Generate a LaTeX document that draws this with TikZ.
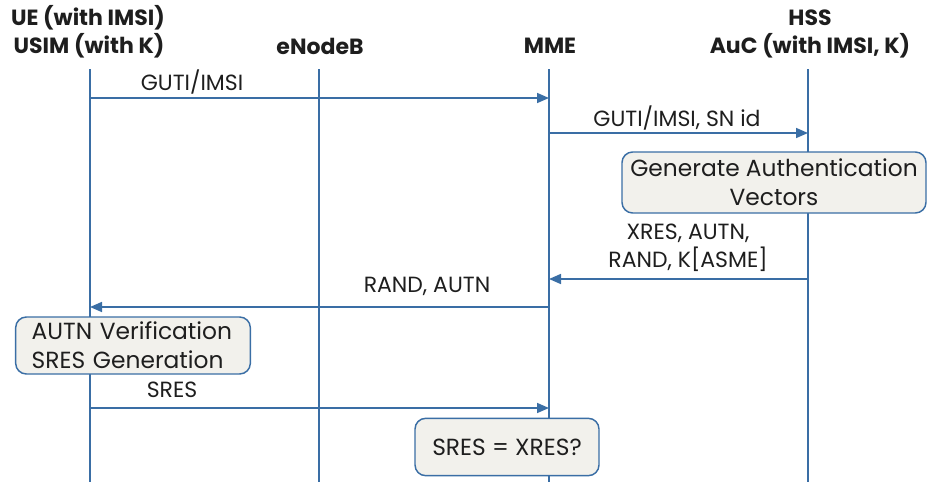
\documentclass[tikz,border=0pt]{standalone}
\usepackage{fontspec}
\setmainfont{Poppins}
\usetikzlibrary{arrows.meta}
\definecolor{lblue}{HTML}{3A6EA5}
\definecolor{boxfill}{HTML}{F2F1EC}
\definecolor{txt}{HTML}{1E1E1E}
\begin{document}
\begin{tikzpicture}[x=0.75pt,y=-0.75pt,
  life/.style={draw=lblue,line width=1.2pt},
  msg/.style={draw=lblue,line width=1.2pt,-{Triangle[length=9pt,width=7.5pt]}},
  head/.style={font=\bfseries\fontsize{16.5}{19}\selectfont,text=txt,inner sep=0,anchor=center},
  lbl/.style={font=\fontsize{16.5}{21}\selectfont,text=txt,inner sep=0,anchor=center},
  notebox/.style={draw=lblue,line width=1.1pt,fill=boxfill,rounded corners=8pt,inner sep=0,text=txt,font=\fontsize{17.5}{21.5}\selectfont}]
\useasboundingbox (0,0) rectangle (929,482);
% headers
\node[head] (ue1) at (88,18) {UE (with IMSI)};
\node[head] (ue2) at (89,46) {USIM (with K)};
\node[head] (enb) at (320,46) {eNodeB};
\node[head] (mme) at (550,46) {MME};
\node[head] (hss1) at (810,18) {HSS};
\node[head] (hss2) at (810,46) {AuC (with IMSI, K)};
% lifelines
\coordinate (ueT) at (90,69);   \coordinate (ueB) at (90,482);
\coordinate (enT) at (319,69);  \coordinate (enB) at (319,482);
\coordinate (mmT) at (549,69);  \coordinate (mmB) at (549,482);
\coordinate (hsT) at (808,69);  \coordinate (hsB) at (808,482);
\draw[life] (ueT) -- (ueB);
\draw[life] (enT) -- (enB);
\draw[life] (mmT) -- (mmB);
\draw[life] (hsT) -- (hsB);
% message endpoints
\coordinate (a1) at (90,98);   \coordinate (b1) at (549,98);
\coordinate (a2) at (549,133); \coordinate (b2) at (808,133);
\coordinate (a3) at (808,279); \coordinate (b3) at (549,279);
\coordinate (a4) at (549,307); \coordinate (b4) at (90,307);
\coordinate (a5) at (90,408);  \coordinate (b5) at (549,408);
\draw[msg] (a1) -- (b1);
\draw[msg] (a2) -- (b2);
\draw[msg] (a3) -- (b3);
\draw[msg] (a4) -- (b4);
\draw[msg] (a5) -- (b5);
% labels
\node[lbl] (l1) at (192,82) {GUTI/IMSI};
\node[lbl] (l2) at (677,118) {GUTI/IMSI, SN id};
\node[lbl,align=center] (l3) at (688,248) {XRES, AUTN,\\RAND, K[ASME]};
\node[lbl] (l4) at (427,286) {RAND, AUTN};
\node[lbl] (l5) at (172,390) {SRES};
% boxes
\node[notebox,minimum width=228pt,minimum height=45.75pt,align=center] (g) at (774,182.5) {Generate Authentication\\Vectors};
\node[notebox,minimum width=176pt,minimum height=42.75pt,align=left,text width=152pt] (v) at (133,345.5) {AUTN Verification\\SRES Generation};
\node[notebox,minimum width=138pt,minimum height=43pt] (c) at (507,447) {SRES = XRES?\hspace{12pt}};
\end{tikzpicture}
\end{document}
